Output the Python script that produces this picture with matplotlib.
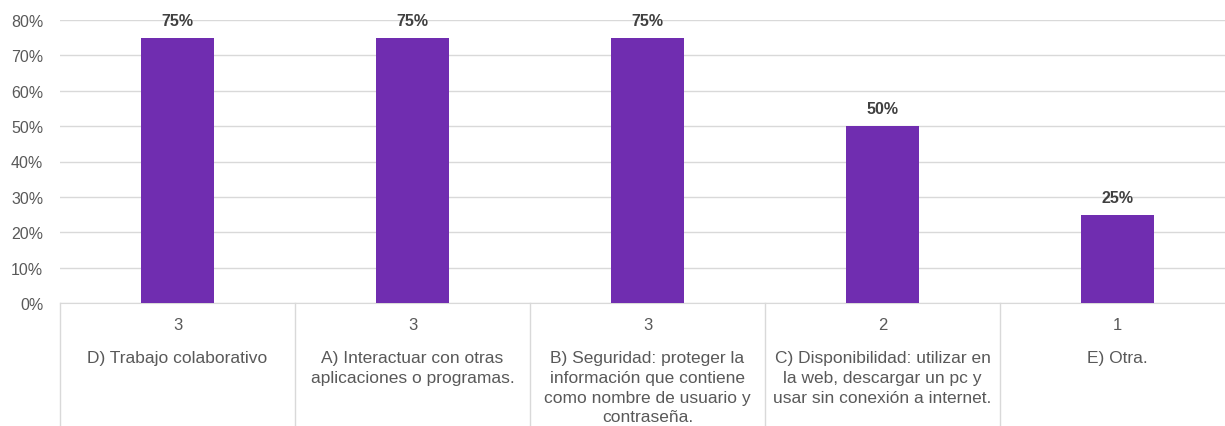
import matplotlib.pyplot as plt
import matplotlib.transforms as mtransforms
from matplotlib.ticker import PercentFormatter

# Survey results: share of respondents and raw counts per option
categories = [
    "D) Trabajo colaborativo",
    "A) Interactuar con otras\naplicaciones o programas.",
    "B) Seguridad: proteger la\ninformación que contiene\ncomo nombre de usuario y\ncontraseña.",
    "C) Disponibilidad: utilizar en\nla web, descargar un pc y\nusar sin conexión a internet.",
    "E) Otra.",
]
percentages = [75, 75, 75, 50, 25]
counts = [3, 3, 3, 2, 1]

BAR_COLOR = "#702DB0"
GRID_COLOR = "#D9D9D9"
TEXT_COLOR = "#595959"

plt.rcParams["font.family"] = ["Liberation Sans", "DejaVu Sans"]

fig = plt.figure(figsize=(12.25, 4.27), dpi=100)
ax = fig.add_axes([60 / 1225, (427 - 304) / 427, 1175 / 1225, 283 / 427])

x = list(range(len(categories)))
bars = ax.bar(x, percentages, width=0.31, color=BAR_COLOR, zorder=3)

ax.set_xlim(-0.5, len(categories) - 0.5)
ax.set_ylim(0, 80)
ax.set_yticks(range(0, 81, 10))
ax.yaxis.set_major_formatter(PercentFormatter(decimals=0))
ax.tick_params(axis="y", length=0, pad=12, labelsize=11.5, labelcolor=TEXT_COLOR)
ax.tick_params(axis="x", length=0, labelbottom=False)
ax.grid(axis="y", color=GRID_COLOR, linewidth=1, zorder=0)
for spine in ["top", "right", "left"]:
    ax.spines[spine].set_visible(False)
ax.spines["bottom"].set_color(GRID_COLOR)

# value labels above the bars
for rect, val in zip(bars, percentages):
    ax.annotate(f"{val}%", (rect.get_x() + rect.get_width() / 2, val),
                xytext=(0, 7), textcoords="offset points",
                ha="center", va="bottom", fontsize=11.5,
                fontweight="bold", color="#404040")

# table-style category axis: separators, counts and wrapped labels
sep_trans = mtransforms.blended_transform_factory(ax.transData, ax.transAxes)
for i in range(len(categories) + 1):
    ax.plot([i - 0.5, i - 0.5], [0, -0.6], transform=sep_trans,
            color=GRID_COLOR, linewidth=1, clip_on=False)

for i, (cat, n) in enumerate(zip(categories, counts)):
    count_tr = mtransforms.offset_copy(sep_trans, fig=fig, x=0, y=-22, units="dots")
    ax.text(i, 0, str(n), transform=count_tr, ha="center", va="center",
            fontsize=12, color=TEXT_COLOR)
    label_tr = mtransforms.offset_copy(sep_trans, fig=fig, x=0, y=-47, units="dots")
    ax.text(i, 0, cat, transform=label_tr, ha="center", va="top",
            fontsize=12.5, color=TEXT_COLOR, linespacing=1.4)

fig.savefig("out.png", dpi=100)
